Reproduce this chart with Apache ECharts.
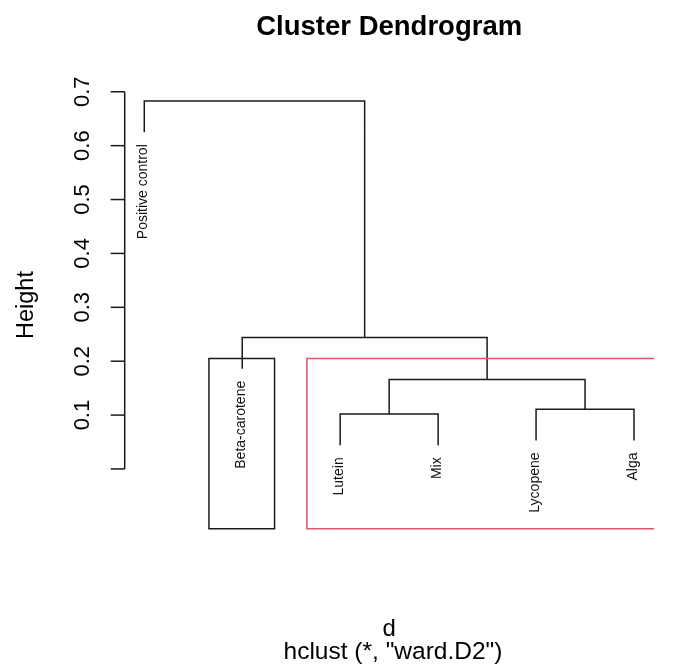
<!DOCTYPE html>
<html><head><meta charset="utf-8">
<style>html,body{margin:0;padding:0;background:#fff}#c{width:700px;height:666px}</style>
<script src="https://cdn.jsdelivr.net/npm/echarts@6/dist/echarts.min.js"></script>
</head><body><div id="c"></div>
<script>
// ---- data ----
const leafLabels = ['Positive control', 'Beta-carotene', 'Lutein', 'Mix', 'Lycopene', 'Alga'];
// R-style merge matrix: negative = leaf (1-based, in plotting order), positive = earlier merge step
const mergeLeft  = [-3, -5, 1, -2, -1];
const mergeRight = [-4, -6, 2, 3, 4];
const mergeHeights = [0.102, 0.111, 0.166, 0.244, 0.683];
const yTicks = [0, 0.1, 0.2, 0.3, 0.4, 0.5, 0.6, 0.7];
const yTickLabels = ['', '0.1', '0.2', '0.3', '0.4', '0.5', '0.6', '0.7'];
const kClusters = 3;
const boxedClusters = [[2, 2], [3, 6]]; // leaf ranges of the clusters with rect.hclust boxes
const usrBottom = -0.1108;              // par("usr")[3] of the R plot

// ---- derived ----
const hang = 0.1 * (Math.max(...mergeHeights) - Math.min(...mergeHeights));
const leafX = leafLabels.map((_, i) => i + 1);
const leafEnd = new Array(leafLabels.length);
const nodeX = [];
const segData = [];
mergeLeft.forEach((l, i) => {
  const r = mergeRight[i], h = mergeHeights[i];
  const pos = c => {
    if (c < 0) { leafEnd[-c - 1] = h - hang; return [leafX[-c - 1], h - hang]; }
    return [nodeX[c - 1], mergeHeights[c - 1]];
  };
  const [lx, ly] = pos(l), [rx, ry] = pos(r);
  nodeX[i] = (lx + rx) / 2;
  segData.push([lx, ly, rx, ry, h]);
});
const leafData = leafLabels.map((n, i) => [leafX[i], leafEnd[i], n]);
const sortedH = mergeHeights.slice().sort((a, b) => b - a);
const boxTop = (sortedH[kClusters - 2] + sortedH[kClusters - 1]) / 2;
const boxData = boxedClusters.map((c, i) => [c[0] - 1 + 0.66, c[1] + 0.33, boxTop, usrBottom, i]);
const tickData = yTicks.map((t, i) => [t, yTickLabels[i]]);

const FONT = '"Liberation Sans", Arial, Helvetica, sans-serif';
const LINE = '#1a1a1a';
const boxColors = ['#1a1a1a', '#DF536B'];

const chart = echarts.init(document.getElementById('c'), null, {renderer: 'canvas'});
chart.setOption({
  animation: false,
  backgroundColor: '#fff',
  grid: {left: 124.7, top: 81.0, width: 528.9, height: 463.4},
  xAxis: {type: 'value', min: 0.8, max: 6.2, show: false},
  yAxis: {type: 'value', min: -0.14, max: 0.72, show: false},
  graphic: [
    {type: 'text', x: 389.2, y: 27.5, style: {text: 'Cluster Dendrogram', align: 'center', verticalAlign: 'middle', font: 'bold 27.5px ' + FONT, fill: '#000'}},
    {type: 'text', x: 389.2, y: 629, style: {text: 'd', align: 'center', verticalAlign: 'middle', font: '24px ' + FONT, fill: '#000'}},
    {type: 'text', x: 393, y: 652, style: {text: 'hclust (*, "ward.D2")', align: 'center', verticalAlign: 'middle', font: '24.5px ' + FONT, fill: '#000'}},
    {type: 'text', x: 27, y: 305, rotation: Math.PI / 2, style: {text: 'Height', align: 'center', verticalAlign: 'middle', font: '23.5px ' + FONT, fill: '#000'}}
  ],
  series: [
    { // dendrogram branches
      type: 'custom', silent: true, data: segData,
      encode: {x: [0, 2], y: [1, 3, 4]},
      renderItem(params, api) {
        const a = api.coord([api.value(0), api.value(1)]);
        const b = api.coord([api.value(0), api.value(4)]);
        const c = api.coord([api.value(2), api.value(4)]);
        const d = api.coord([api.value(2), api.value(3)]);
        return {type: 'polyline', shape: {points: [a, b, c, d]}, style: {stroke: LINE, lineWidth: 1.5, fill: null}};
      }
    },
    { // leaf labels
      type: 'custom', silent: true, data: leafData,
      encode: {x: 0, y: 1},
      renderItem(params, api) {
        const p = api.coord([api.value(0), api.value(1)]);
        return {type: 'text', x: p[0] - 1, y: p[1] + 12, rotation: Math.PI / 2,
          style: {text: leafData[params.dataIndex][2], align: 'right', verticalAlign: 'middle', font: '14px ' + FONT, fill: '#111'}};
      }
    },
    { // rect.hclust boxes
      type: 'custom', silent: true, clip: true, data: boxData,
      encode: {x: [0, 1], y: [2, 3]},
      renderItem(params, api) {
        const p1 = api.coord([api.value(0), api.value(2)]);
        const p2 = api.coord([api.value(1), api.value(3)]);
        return {type: 'rect', shape: {x: p1[0], y: p1[1], width: p2[0] - p1[0], height: p2[1] - p1[1]},
          style: {stroke: boxColors[api.value(4)], lineWidth: 1.5, fill: null}};
      }
    },
    { // y axis (R style, spanning tick range only)
      type: 'custom', silent: true, data: tickData,
      encode: {y: 0},
      renderItem(params, api) {
        const xAxisMin = 0.8;
        const p = api.coord([xAxisMin, api.value(0)]);
        const children = [
          {type: 'line', shape: {x1: p[0] - 14, y1: p[1], x2: p[0], y2: p[1]}, style: {stroke: LINE, lineWidth: 1.5}},
          {type: 'text', x: p[0] - 42, y: p[1], rotation: Math.PI / 2,
            style: {text: tickData[params.dataIndex][1], align: 'center', verticalAlign: 'middle', font: '22px ' + FONT, fill: '#000'}}
        ];
        if (params.dataIndex === 0) {
          const top = api.coord([xAxisMin, yTicks[yTicks.length - 1]]);
          children.push({type: 'line', shape: {x1: p[0], y1: p[1], x2: top[0], y2: top[1]}, style: {stroke: LINE, lineWidth: 1.5}});
        }
        return {type: 'group', children};
      }
    }
  ]
});
</script>
</body></html>
